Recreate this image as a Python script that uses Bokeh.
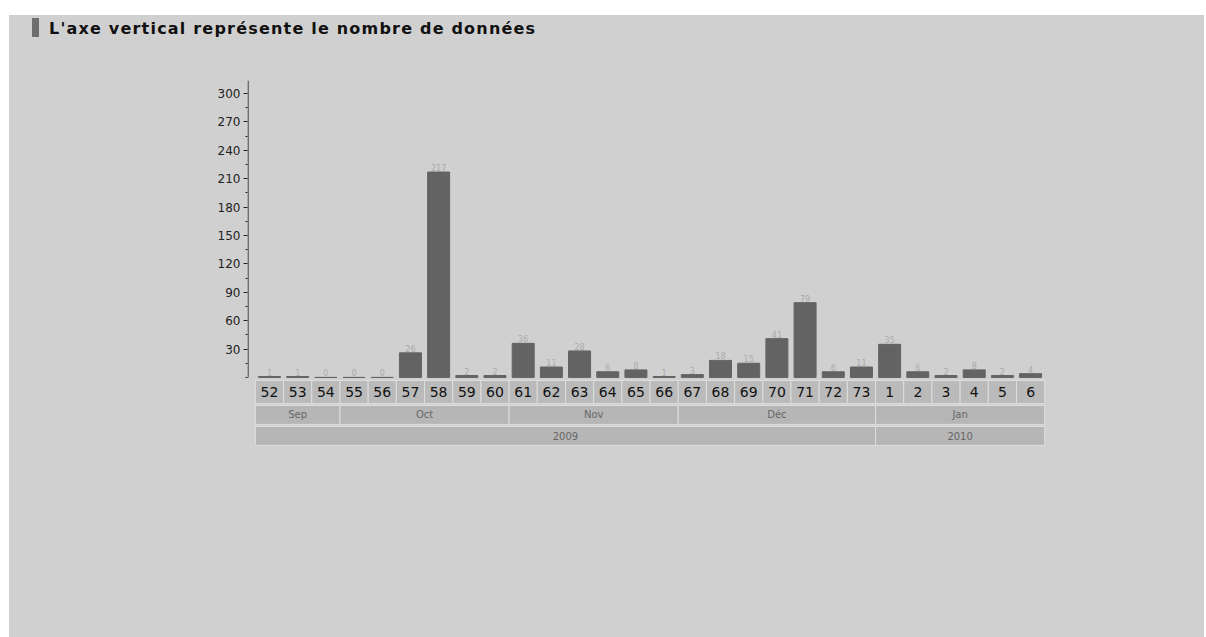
from bokeh.plotting import figure
from bokeh.models import Range1d, FixedTicker, Spacer, ColumnDataSource, Div
from bokeh.layouts import column, row
from bokeh.core.properties import value
from bokeh.embed import file_html
from bokeh.resources import INLINE

# ---- data ----
weeks = ["52", "53", "54", "55", "56", "57", "58", "59", "60", "61", "62", "63", "64", "65",
         "66", "67", "68", "69", "70", "71", "72", "73", "1", "2", "3", "4", "5", "6"]
counts = [1, 1, 0, 0, 0, 26, 217, 2, 2, 36, 11, 28, 6, 8,
          1, 3, 18, 15, 41, 79, 6, 11, 35, 6, 2, 8, 2, 4]
months = ["Sep", "Oct", "Nov", "Déc", "Jan"]
month_weeks = [3, 6, 6, 7, 6]
years = ["2009", "2010"]
year_weeks = [22, 6]
y_ticks = [30, 60, 90, 120, 150, 180, 210, 240, 270, 300]
title_text = "L'axe vertical représente le nombre de données"

BG = "#d0d0d0"
BAR = "#636363"
CELL = "#bababa"
SEP = "#dedede"
FONT = "DejaVu Sans"

n = len(weeks)
xs = list(range(n))

x_start, x_end = -0.78, 27.6
y_top = 313.7
y_bot = -74.0

W = 1195

title_div = Div(
    text=('<div style="position:relative;width:100%;height:50px;">'
          '<div style="position:absolute;left:23px;top:3px;width:7px;height:19px;background:#6e6e6e;"></div>'
          '<div style="position:absolute;left:40px;top:6px;line-height:16px;white-space:nowrap;'
          'font-family:\'DejaVu Sans\';font-weight:bold;font-size:16px;letter-spacing:1.2px;color:#111;">'
          + title_text + '</div></div>'),
    width=W, height=50,
)
title_div.margin = 0

p = figure(width=W, height=572, output_backend="svg", toolbar_location=None,
           x_range=Range1d(x_start, x_end), y_range=Range1d(y_bot, y_top),
           x_axis_location=None,
           min_border_left=238, min_border_right=157, min_border_top=15, min_border_bottom=190)
p.background_fill_alpha = 0
p.border_fill_alpha = 0
p.outline_line_color = None
p.grid.visible = False

# y axis
ax = p.yaxis[0]
ax.ticker = FixedTicker(ticks=y_ticks, minor_ticks=[0] + [t - 15 for t in y_ticks])
ax.axis_line_color = None
ax.major_tick_out = 4
ax.major_tick_in = 0
ax.minor_tick_out = 2
ax.minor_tick_in = 0
ax.major_tick_line_color = "#222222"
ax.minor_tick_line_color = "#222222"
ax.major_label_text_font = FONT
ax.major_label_text_font_size = "12px"
ax.major_label_text_color = "#222222"
ax.major_label_standoff = 3
p.segment(x0=[x_start + 0.02], y0=[0], x1=[x_start + 0.02], y1=[y_top], line_color="#222222", line_width=1)

# bars
src = ColumnDataSource(dict(x=xs, top=counts, lab=[str(c) for c in counts]))
p.vbar(x="x", top="top", bottom=0, width=0.78, source=src, fill_color=BAR, line_color=BAR, line_width=1)
p.text(x="x", y="top", text="lab", source=src, text_align="center", text_baseline="bottom",
       y_offset=-1, text_font=value(FONT), text_font_size="8px", text_color="#ababab")

# week cells
p.quad(left=[x - 0.5 for x in xs], right=[x + 0.5 for x in xs], top=-3.2, bottom=-27.5,
       fill_color=CELL, line_color=SEP, line_width=1)
p.text(x=xs, y=[-15.3] * n, text=weeks, text_align="center", text_baseline="middle",
       text_font=value(FONT), text_font_size="14px", text_color="#111111")

# month cells
m_left, m_right, m_mid = [], [], []
acc = 0
for c in month_weeks:
    m_left.append(acc - 0.5)
    m_right.append(acc + c - 0.5)
    m_mid.append(acc + (c - 1) / 2)
    acc += c
p.quad(left=m_left, right=m_right, top=-29.6, bottom=-49.6, fill_color="#b6b6b6", line_color=SEP, line_width=1)
p.text(x=m_mid, y=[-39.6] * len(months), text=months, text_align="center", text_baseline="middle",
       text_font=value(FONT), text_font_size="10px", text_color="#666666")

# year cells
y_left, y_right, y_mid = [], [], []
acc = 0
for c in year_weeks:
    y_left.append(acc - 0.5)
    y_right.append(acc + c - 0.5)
    y_mid.append(acc + (c - 1) / 2)
    acc += c
p.quad(left=y_left, right=y_right, top=-51.8, bottom=-71.8, fill_color="#b6b6b6", line_color=SEP, line_width=1)
p.text(x=y_mid, y=[-61.8] * len(years), text=years, text_align="center", text_baseline="middle",
       text_font=value(FONT), text_font_size="10px", text_color="#666666")

panel = column(title_div, p, styles={"background-color": BG})
layout = column(Spacer(height=15), row(Spacer(width=9), panel))
open("out.html", "w").write(file_html(layout, INLINE))
